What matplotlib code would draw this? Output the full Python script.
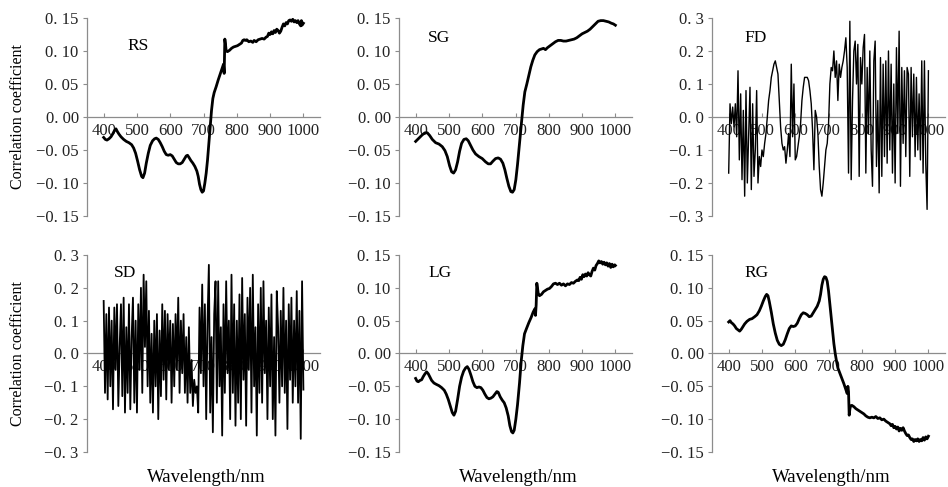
import numpy as np
import matplotlib
matplotlib.use("Agg")
import matplotlib.pyplot as plt

# ---- data ----
rs_wl = [400, 405, 410, 416, 422, 428, 433, 437, 441, 446, 452, 460, 468, 476, 484, 490, 496, 502, 508, 514,
         518, 523, 528, 534, 540, 547, 553, 558, 564, 570, 576, 582, 588, 594, 600, 606, 612, 618, 624, 630,
         636, 642, 648, 652, 656, 662, 668, 674, 680, 684, 688, 692, 696, 700, 704, 708, 712, 716, 720, 724,
         728, 732, 738, 744, 750, 756, 760, 762, 764, 766, 768, 772, 778, 784, 790, 796, 802, 808, 814, 818,
         822, 826, 830, 836, 842, 848, 852, 858, 864, 870, 876, 882, 888, 892, 896, 900, 904, 908, 912, 916,
         920, 924, 928, 932, 936, 940, 944, 948, 952, 956, 960, 964, 968, 972, 976, 980, 984, 988, 992, 994,
         996, 1000]
rs_r = [-0.031, -0.034, -0.035, -0.033, -0.030, -0.025, -0.020, -0.018, -0.022, -0.026, -0.030, -0.034,
        -0.037, -0.039, -0.042, -0.047, -0.055, -0.067, -0.080, -0.090, -0.092, -0.085, -0.070, -0.055,
        -0.043, -0.036, -0.033, -0.032, -0.034, -0.039, -0.045, -0.052, -0.057, -0.058, -0.057, -0.059,
        -0.064, -0.069, -0.071, -0.071, -0.069, -0.064, -0.059, -0.058, -0.061, -0.066, -0.070, -0.075,
        -0.082, -0.090, -0.102, -0.110, -0.114, -0.112, -0.100, -0.085, -0.065, -0.040, -0.015, 0.010,
        0.028, 0.037, 0.046, 0.056, 0.065, 0.074, 0.080, 0.066, 0.118, 0.110, 0.100, 0.099, 0.101, 0.104,
        0.106, 0.107, 0.108, 0.110, 0.112, 0.116, 0.117, 0.116, 0.117, 0.114, 0.115, 0.113, 0.116, 0.114,
        0.117, 0.118, 0.119, 0.118, 0.121, 0.122, 0.127, 0.125, 0.129, 0.126, 0.131, 0.128, 0.133, 0.131,
        0.127, 0.130, 0.136, 0.141, 0.138, 0.143, 0.141, 0.146, 0.147, 0.145, 0.148, 0.144, 0.146, 0.143,
        0.146, 0.141, 0.138, 0.146, 0.139, 0.142]

sg_wl = [400, 410, 420, 428, 435, 442, 450, 460, 470, 480, 488, 495, 502, 508, 514, 520, 526, 532, 538, 545,
         552, 558, 565, 572, 580, 590, 600, 610, 618, 625, 632, 640, 648, 655, 662, 668, 674, 680, 686, 691,
         696, 701, 706, 712, 718, 723, 728, 734, 740, 746, 752, 758, 765, 772, 778, 784, 790, 796, 804, 812,
         820, 828, 836, 844, 852, 860, 868, 876, 884, 892, 900, 908, 916, 924, 932, 940, 948, 956, 964, 972,
         980, 988, 994, 1000]
sg_r = [-0.037, -0.032, -0.027, -0.024, -0.024, -0.028, -0.034, -0.039, -0.041, -0.045, -0.051, -0.060,
        -0.074, -0.083, -0.085, -0.080, -0.068, -0.052, -0.040, -0.034, -0.033, -0.036, -0.043, -0.050,
        -0.056, -0.060, -0.063, -0.068, -0.071, -0.071, -0.067, -0.063, -0.062, -0.064, -0.070, -0.080,
        -0.093, -0.105, -0.113, -0.114, -0.110, -0.095, -0.072, -0.040, -0.008, 0.018, 0.038, 0.050,
        0.063, 0.076, 0.086, 0.094, 0.099, 0.102, 0.103, 0.104, 0.102, 0.105, 0.108, 0.111, 0.114, 0.116,
        0.116, 0.115, 0.115, 0.116, 0.117, 0.118, 0.120, 0.123, 0.126, 0.128, 0.130, 0.133, 0.137, 0.141,
        0.145, 0.146, 0.146, 0.145, 0.144, 0.142, 0.141, 0.139]

# first derivative and second derivative, sampled every 4 nm from 400 to 1000
fd_r = [-0.17, 0.04, -0.02, 0.03, -0.03, 0.04, -0.06, 0.14, -0.13, 0.07,
        -0.19, 0.02, -0.24, 0.08, -0.2, -0.05, 0.09, -0.22, 0.04, -0.18,
        -0.1, 0.08, -0.2, -0.12, -0.15, -0.1, -0.12, -0.08, -0.05, 0.0,
        0.05, 0.08, 0.12, 0.14, 0.16, 0.17, 0.15, 0.13, 0.05, -0.03,
        -0.08, -0.1, -0.09, -0.14, -0.1, -0.05, -0.12, 0.16, -0.06, 0.1,
        -0.13, -0.12, -0.09, -0.06, -0.02, 0.05, 0.09, 0.12, 0.12, 0.12,
        0.11, 0.08, 0.04, -0.04, -0.16, 0.02, 0.0, -0.05, -0.15, -0.22,
        -0.24, -0.2, -0.15, -0.1, -0.08, -0.02, 0.1, 0.15, 0.14, 0.2,
        0.12, 0.17, 0.05, 0.16, 0.12, 0.15, 0.17, 0.2, 0.24, 0.15,
        -0.17, 0.29, -0.19, 0.05, 0.2, 0.23, 0.1, 0.22, -0.18, 0.18,
        0.1, 0.21, 0.25, -0.17, 0.15, -0.05, 0.2, -0.1, -0.21, 0.17,
        0.23, -0.15, 0.05, -0.23, 0.18, -0.18, 0.16, -0.12, 0.17, -0.14,
        0.2, -0.1, 0.16, -0.17, 0.1, -0.2, 0.21, -0.05, 0.26, -0.21,
        0.15, -0.08, 0.14, -0.12, 0.15, 0.13, -0.18, 0.15, -0.06, 0.13,
        -0.12, 0.12, -0.1, 0.07, -0.13, 0.17, -0.17, 0.17, -0.14, -0.28,
        0.14]

sd_r = [0.16, -0.12, 0.12, -0.14, 0.14, -0.1, 0.1, -0.17, 0.14, -0.05,
        0.15, -0.16, 0.02, 0.15, -0.13, 0.17, -0.18, 0.08, -0.12, 0.15,
        -0.17, 0.05, 0.17, -0.15, 0.1, -0.18, 0.15, -0.05, 0.2, -0.12,
        0.24, 0.02, 0.22, -0.1, 0.13, -0.15, 0.06, -0.18, 0.1, -0.1,
        0.12, -0.2, 0.07, -0.13, 0.15, -0.08, 0.13, -0.14, 0.12, -0.05,
        0.1, -0.15, 0.09, -0.1, 0.12, -0.05, 0.17, -0.12, 0.1, -0.06,
        0.12, -0.12, 0.05, -0.15, 0.08, -0.12, -0.02, -0.16, -0.08, -0.12,
        -0.1, -0.18, 0.14, -0.06, 0.21, -0.1, 0.15, -0.2, 0.1, 0.27,
        -0.18, 0.05, -0.24, 0.12, 0.22, -0.15, 0.22, -0.1, 0.08, -0.25,
        0.15, -0.12, 0.22, -0.06, 0.1, -0.2, 0.24, -0.12, 0.15, -0.22,
        0.1, -0.15, 0.18, -0.2, 0.23, -0.08, 0.12, -0.22, 0.17, -0.05,
        0.2, -0.18, 0.24, -0.1, 0.08, -0.25, 0.15, -0.12, 0.2, -0.15,
        0.22, -0.06, 0.1, -0.2, 0.14, -0.1, 0.18, -0.2, 0.05, -0.25,
        0.19, 0.08, -0.15, 0.13, -0.1, 0.2, -0.12, 0.1, -0.23, 0.15,
        -0.08, 0.17, -0.15, 0.1, -0.1, 0.19, -0.15, 0.13, -0.26, 0.22,
        -0.11]

lg_wl = [400, 404, 408, 413, 418, 423, 428, 433, 438, 443, 448, 455, 462, 470, 478, 486, 492, 498, 504, 510,
         515, 520, 526, 532, 538, 544, 550, 555, 560, 566, 572, 578, 584, 590, 596, 602, 608, 614, 620, 626,
         632, 638, 644, 648, 654, 660, 666, 672, 678, 683, 688, 692, 696, 701, 706, 712, 717, 722, 727, 733,
         740, 747, 753, 758, 760, 762, 764, 766, 768, 772, 778, 784, 790, 796, 802, 808, 814, 820, 826, 832,
         838, 844, 850, 856, 862, 868, 874, 880, 886, 890, 894, 898, 902, 906, 910, 914, 918, 922, 926, 930,
         934, 938, 942, 946, 950, 954, 958, 962, 966, 970, 974, 978, 982, 986, 990, 994, 998, 1000]
lg_r = [-0.038, -0.042, -0.043, -0.041, -0.040, -0.035, -0.031, -0.028, -0.031, -0.036, -0.041, -0.045,
        -0.047, -0.049, -0.052, -0.056, -0.062, -0.070, -0.080, -0.090, -0.094, -0.088, -0.070, -0.050,
        -0.036, -0.027, -0.022, -0.020, -0.024, -0.033, -0.043, -0.050, -0.052, -0.051, -0.052, -0.056,
        -0.062, -0.067, -0.069, -0.068, -0.066, -0.062, -0.058, -0.059, -0.066, -0.071, -0.075, -0.083,
        -0.095, -0.110, -0.119, -0.121, -0.117, -0.100, -0.078, -0.045, -0.012, 0.012, 0.030, 0.038,
        0.047, 0.055, 0.063, 0.068, 0.058, 0.074, 0.107, 0.100, 0.092, 0.088, 0.090, 0.094, 0.096, 0.098,
        0.099, 0.102, 0.106, 0.107, 0.105, 0.107, 0.104, 0.106, 0.103, 0.106, 0.105, 0.108, 0.107, 0.110,
        0.112, 0.111, 0.116, 0.113, 0.120, 0.117, 0.121, 0.118, 0.123, 0.120, 0.118, 0.125, 0.130, 0.127,
        0.134, 0.137, 0.141, 0.138, 0.140, 0.136, 0.139, 0.135, 0.138, 0.133, 0.137, 0.131, 0.136, 0.132,
        0.135, 0.134]

rg_wl = [400, 404, 408, 413, 418, 423, 428, 433, 438, 443, 448, 455, 463, 470, 478, 485, 492, 498, 504, 510,
         514, 518, 522, 528, 534, 540, 546, 552, 558, 564, 570, 576, 582, 588, 594, 600, 606, 612, 618, 624,
         630, 636, 642, 648, 654, 660, 666, 672, 676, 680, 684, 688, 692, 696, 700, 704, 708, 712, 716, 720,
         724, 728, 734, 740, 746, 752, 756, 758, 760, 762, 764, 766, 770, 776, 782, 788, 794, 800, 806, 812,
         818, 824, 830, 836, 842, 848, 854, 860, 866, 872, 878, 884, 888, 892, 896, 900, 904, 908, 912, 916,
         920, 924, 928, 932, 936, 940, 944, 948, 952, 956, 960, 964, 968, 972, 976, 980, 984, 988, 992, 996,
         1000]
rg_r = [0.048, 0.050, 0.047, 0.045, 0.042, 0.038, 0.036, 0.034, 0.037, 0.041, 0.045, 0.049, 0.052, 0.053,
        0.056, 0.059, 0.065, 0.072, 0.080, 0.087, 0.090, 0.088, 0.079, 0.063, 0.045, 0.031, 0.020, 0.014,
        0.012, 0.014, 0.021, 0.030, 0.038, 0.042, 0.041, 0.042, 0.046, 0.053, 0.059, 0.062, 0.061, 0.059,
        0.056, 0.057, 0.062, 0.067, 0.072, 0.080, 0.090, 0.104, 0.113, 0.117, 0.116, 0.110, 0.095, 0.075,
        0.055, 0.035, 0.015, 0.000, -0.012, -0.022, -0.030, -0.038, -0.046, -0.055, -0.061, -0.050, -0.058,
        -0.094, -0.085, -0.080, -0.079, -0.081, -0.084, -0.086, -0.088, -0.090, -0.092, -0.095, -0.097,
        -0.098, -0.097, -0.098, -0.096, -0.099, -0.098, -0.101, -0.100, -0.103, -0.105, -0.107, -0.110,
        -0.108, -0.113, -0.111, -0.115, -0.112, -0.118, -0.114, -0.117, -0.113, -0.118, -0.122, -0.125,
        -0.124, -0.128, -0.131, -0.130, -0.134, -0.131, -0.133, -0.130, -0.134, -0.131, -0.133, -0.128,
        -0.132, -0.127, -0.130, -0.126]

x_ticks = [400, 500, 600, 700, 800, 900, 1000]
y_ticks_small = [-0.15, -0.10, -0.05, 0.00, 0.05, 0.10, 0.15]
y_labels_small = ["\u22120. 15", "\u22120. 10", "\u22120. 05", "0. 00", "0. 05", "0. 10", "0. 15"]
y_ticks_big = [-0.3, -0.2, -0.1, 0.0, 0.1, 0.2, 0.3]
y_labels_big = ["\u22120. 3", "\u22120. 2", "\u22120. 1", "0. 0", "0. 1", "0. 2", "0. 3"]

SERIF = "Liberation Serif"
GREY = "#8c8c8c"


def style_axes(ax, big):
    ax.set_xlim(350, 1050)
    if big:
        ax.set_ylim(-0.3, 0.3)
        ax.set_yticks(y_ticks_big)
        ax.set_yticklabels(y_labels_big)
    else:
        ax.set_ylim(-0.15, 0.15)
        ax.set_yticks(y_ticks_small)
        ax.set_yticklabels(y_labels_small)
    ax.set_xticks(x_ticks)
    ax.set_xticklabels([str(t) for t in x_ticks])

    ax.spines["top"].set_visible(False)
    ax.spines["right"].set_visible(False)
    ax.spines["bottom"].set_position(("data", 0))
    for s in ("left", "bottom"):
        ax.spines[s].set_color(GREY)
        ax.spines[s].set_linewidth(0.9)
    ax.set_axisbelow(True)

    ax.tick_params(axis="x", direction="in", length=3, width=0.8, color=GREY, pad=4,
                   labelsize=12, labelfontfamily=SERIF, labelcolor="#222222")
    ax.tick_params(axis="y", direction="out", length=3, width=0.8, color=GREY, pad=3,
                   labelsize=12, labelfontfamily=SERIF, labelcolor="#222222")
    ax.patch.set_visible(False)


def main():
    fig = plt.figure(figsize=(9.48, 4.87), dpi=100)

    lefts = [0.0918, 0.4209, 0.7511]
    width = 0.2458
    rows = [(0.5565, 0.4066), (0.0719, 0.4045)]

    wl_noisy = np.linspace(400, 1000, len(fd_r))

    # name, x, y, wide y-range, line width, (row, col), label position in axes fraction
    panels = [
        ("RS", rs_wl, rs_r, False, 2.0, (0, 0), (0.22, 0.86)),
        ("SG", sg_wl, sg_r, False, 2.0, (0, 1), (0.17, 0.90)),
        ("FD", wl_noisy, fd_r, True, 1.0, (0, 2), (0.185, 0.90)),
        ("SD", wl_noisy, sd_r, True, 1.3, (1, 0), (0.165, 0.91)),
        ("LG", lg_wl, lg_r, False, 2.0, (1, 1), (0.175, 0.91)),
        ("RG", rg_wl, rg_r, False, 2.0, (1, 2), (0.19, 0.91)),
    ]

    for name, wl, r, big, lw, (row, col), (tx, ty) in panels:
        bottom, height = rows[row]
        ax = fig.add_axes([lefts[col], bottom, width, height])
        ax.plot(wl, r, color="black", lw=lw, zorder=3, solid_joinstyle="round")
        style_axes(ax, big)
        ax.text(tx, ty, name, transform=ax.transAxes, fontsize=12.5,
                family=SERIF, ha="center", va="center")

        if col == 0:
            fig.text(0.019, bottom + height / 2, "Correlation coefficient", rotation=90,
                     ha="center", va="center", fontsize=11.5, family=SERIF)
        if row == 1:
            fig.text(lefts[col] + width / 2 + 0.003, 0.019, "Wavelength/nm",
                     ha="center", va="center", fontsize=13.5, family=SERIF)

    fig.savefig("out.png", dpi=100)
    plt.close(fig)


if __name__ == "__main__":
    main()
